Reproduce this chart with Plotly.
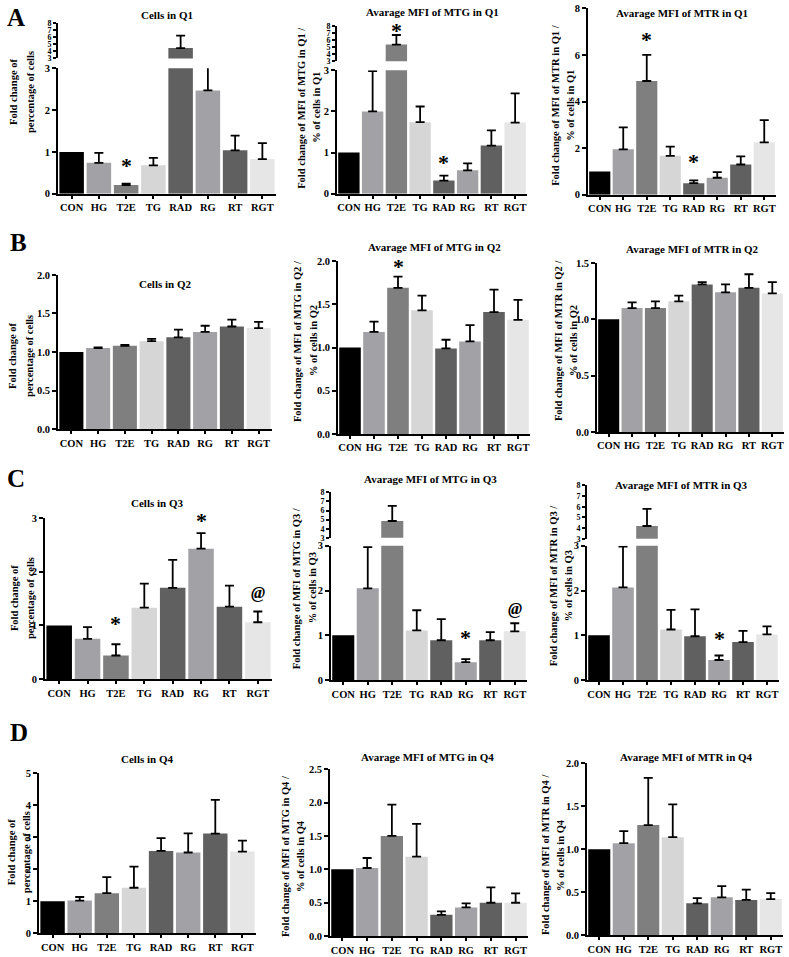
import plotly.graph_objects as go

W, H = 789, 957

categories = ["CON", "HG", "T2E", "TG", "RAD", "RG", "RT", "RGT"]
bar_colors = ["#000000", "#a2a2a6", "#7f7f7f", "#d6d6d6", "#606060", "#a2a2a6", "#606060", "#e6e6e6"]

# ---- data (mean fold change and upper SEM) ----
q1_cells_mean = [1.00, 0.74, 0.21, 0.68, 4.45, 2.47, 1.04, 0.83]
q1_cells_sem = [0, 0.24, 0.03, 0.18, 1.75, 0.89, 0.35, 0.38]
q1_mtg_mean = [1.00, 2.00, 5.36, 1.74, 0.32, 0.57, 1.17, 1.73]
q1_mtg_sem = [0, 0.98, 1.34, 0.38, 0.12, 0.17, 0.37, 0.71]
q1_mtr_mean = [1.00, 1.95, 4.88, 1.67, 0.50, 0.73, 1.30, 2.25]
q1_mtr_sem = [0, 0.94, 1.12, 0.40, 0.12, 0.24, 0.35, 0.95]

q2_cells_mean = [1.00, 1.05, 1.08, 1.14, 1.19, 1.26, 1.33, 1.31]
q2_cells_sem = [0, 0.01, 0.01, 0.03, 0.10, 0.08, 0.09, 0.08]
q2_mtg_mean = [1.00, 1.18, 1.69, 1.43, 0.99, 1.07, 1.41, 1.32]
q2_mtg_sem = [0, 0.12, 0.13, 0.17, 0.10, 0.19, 0.26, 0.23]
q2_mtr_mean = [1.00, 1.10, 1.10, 1.16, 1.31, 1.24, 1.28, 1.23]
q2_mtr_sem = [0, 0.05, 0.06, 0.05, 0.02, 0.07, 0.12, 0.10]

q3_cells_mean = [1.00, 0.75, 0.44, 1.33, 1.70, 2.43, 1.35, 1.06]
q3_cells_sem = [0, 0.22, 0.21, 0.45, 0.52, 0.29, 0.39, 0.20]
q3_mtg_mean = [1.00, 2.05, 4.85, 1.11, 0.89, 0.40, 0.89, 1.09]
q3_mtg_sem = [0, 0.92, 1.65, 0.45, 0.47, 0.07, 0.18, 0.18]
q3_mtr_mean = [1.00, 2.07, 4.20, 1.13, 0.98, 0.45, 0.85, 1.02]
q3_mtr_sem = [0, 0.91, 1.60, 0.44, 0.60, 0.10, 0.25, 0.18]

q4_cells_mean = [1.00, 1.02, 1.25, 1.42, 2.57, 2.52, 3.11, 2.55]
q4_cells_sem = [0, 0.11, 0.50, 0.66, 0.40, 0.60, 1.05, 0.34]
q4_mtg_mean = [1.00, 1.02, 1.50, 1.19, 0.32, 0.43, 0.50, 0.50]
q4_mtg_sem = [0, 0.15, 0.47, 0.49, 0.05, 0.06, 0.23, 0.14]
q4_mtr_mean = [1.00, 1.07, 1.28, 1.14, 0.37, 0.44, 0.41, 0.42]
q4_mtr_sem = [0, 0.14, 0.55, 0.38, 0.06, 0.13, 0.12, 0.07]

FONT = "Liberation Serif"


def px(x):
    return x / W


def py(y):
    return min(1.0, max(0.0, 1 - y / H))


def cells_title():
    return ["Fold change of", "percentage of cells"]


def mfi_title(probe, q):
    return [f"Fold change of MFI of {probe} in {q} /", f"% of cells in {q}"]


# marks: (category, symbol, pixel offset of the symbol above the error-bar top)
panels = [
    # row A
    dict(mean=q1_cells_mean, sem=q1_cells_sem, x0=58, x1=276, yz=191, yt=64, ymax=3, dt=1, fmt="d",
         upper=(54, 18), title="Cells in Q1", tpos=(167, 10), ytitle=cells_title(), ytx=(14, 31), yty=88,
         marks=[("T2E", "*", 21)]),
    dict(mean=q1_mtg_mean, sem=q1_mtg_sem, x0=337, x1=527, yz=191, yt=66, ymax=3, dt=1, fmt="d",
         upper=(57, 21), title="Avarage MFI of MTG in Q1", tpos=(433, 7), ytitle=mfi_title("MTG", "Q1"),
         ytx=(302, 317), yty=104, marks=[("T2E", "*", 7), ("RAD", "*", 16)]),
    dict(mean=q1_mtr_mean, sem=q1_mtr_sem, x0=588, x1=776, yz=192, yt=3.3, ymax=8, dt=2, fmt="d",
         upper=None, title="Avarage MFI of MTR in Q1", tpos=(682, 8), ytitle=mfi_title("MTR", "Q1"),
         ytx=(556, 571), yty=102, marks=[("T2E", "*", 18), ("RAD", "*", 21)]),
    # row B
    dict(mean=q2_cells_mean, sem=q2_cells_sem, x0=58, x1=272, yz=429, yt=273, ymax=2.0, dt=0.5, fmt=".1f",
         upper=None, title="Cells in Q2", tpos=(165, 282), ytitle=cells_title(), ytx=(13, 30), yty=355,
         marks=[]),
    dict(mean=q2_mtg_mean, sem=q2_mtg_sem, x0=338, x1=530, yz=434, yt=259, ymax=2.0, dt=0.5, fmt=".1f",
         upper=None, title="Avarage MFI of MTG in Q2", tpos=(434, 245), ytitle=mfi_title("MTG", "Q2"),
         ytx=(297, 313), yty=340, marks=[("T2E", "*", 13)]),
    dict(mean=q2_mtr_mean, sem=q2_mtr_sem, x0=597, x1=784, yz=432, yt=261, ymax=1.5, dt=0.5, fmt=".1f",
         upper=None, title="Avarage MFI of MTR in Q2", tpos=(692, 247), ytitle=mfi_title("MTR", "Q2"),
         ytx=(558, 573), yty=340, marks=[]),
    # row C
    dict(mean=q3_cells_mean, sem=q3_cells_sem, x0=45, x1=272, yz=682, yt=519, ymax=3, dt=1, fmt="d",
         upper=None, title="Cells in Q3", tpos=(157, 504), ytitle=cells_title(), ytx=(14, 30), yty=600,
         marks=[("T2E", "*", 23), ("RG", "*", 15), ("RGT", "@", 20)]),
    dict(mean=q3_mtg_mean, sem=q3_mtg_sem, x0=331, x1=527, yz=683, yt=547, ymax=3, dt=1, fmt="d",
         upper=(539, 493), title="Avarage MFI of MTG in Q3", tpos=(430, 480), ytitle=mfi_title("MTG", "Q3"),
         ytx=(296, 312), yty=590, marks=[("RG", "*", 24), ("RGT", "@", 16)]),
    dict(mean=q3_mtr_mean, sem=q3_mtr_sem, x0=587, x1=779, yz=683, yt=547, ymax=3, dt=1, fmt="d",
         upper=(540, 486), title="Avarage MFI of MTR in Q3", tpos=(681, 486), ytitle=mfi_title("MTR", "Q3"),
         ytx=(553, 568), yty=588, marks=[("RG", "*", 20)]),
    # row D
    dict(mean=q4_cells_mean, sem=q4_cells_sem, x0=39, x1=256, yz=939, yt=777, ymax=5, dt=1, fmt="d",
         upper=None, title="Cells in Q4", tpos=(147, 763), ytitle=cells_title(), ytx=(11, 26), yty=857,
         marks=[]),
    dict(mean=q4_mtg_mean, sem=q4_mtg_sem, x0=330, x1=528, yz=942, yt=773, ymax=2.5, dt=0.5, fmt=".1f",
         upper=None, title="Avarage MFI of MTG in Q4", tpos=(427, 761), ytitle=mfi_title("MTG", "Q4"),
         ytx=(285, 300), yty=861, marks=[]),
    dict(mean=q4_mtr_mean, sem=q4_mtr_sem, x0=587, x1=783, yz=941, yt=767, ymax=2.0, dt=0.5, fmt=".1f",
         upper=None, title="Avarage MFI of MTR in Q4", tpos=(686, 761), ytitle=mfi_title("MTR", "Q4"),
         ytx=(545, 560), yty=860, marks=[]),
]

panel_letters = [("A", 16, 13), ("B", 18, 240), ("C", 16, 479), ("D", 19, 736)]

fig = go.Figure()
layout = dict(
    width=W, height=H, autosize=False,
    margin=dict(l=0, r=0, t=0, b=0),
    paper_bgcolor="white", plot_bgcolor="white",
    showlegend=False, bargap=0.1, barmode="overlay",
    font=dict(family=FONT, color="black", size=10),
)
annotations = []

axis_common = dict(showline=True, linecolor="black", linewidth=1.7, ticks="outside",
                   tickcolor="black", tickwidth=1.5, showgrid=False, zeroline=False)
tickfont = dict(family=FONT, size=10.5, color="black", weight="bold")

yi = 0
for i, p in enumerate(panels):
    xn = i + 1
    xname = "x" if xn == 1 else f"x{xn}"
    xkey = "xaxis" if xn == 1 else f"xaxis{xn}"
    yi += 1
    ylow = "y" if yi == 1 else f"y{yi}"
    ylowkey = "yaxis" if yi == 1 else f"yaxis{yi}"

    layout[xkey] = dict(axis_common, domain=[px(p["x0"]), px(p["x1"])], anchor=ylow,
                        type="category", categoryorder="array", categoryarray=categories,
                        range=[-0.5, 7.5], ticklen=3, tickfont=tickfont)
    nt = int(round(p["ymax"] / p["dt"]))
    tv = [k * p["dt"] for k in range(nt + 1)]
    tt = [(f"{v:.1f}" if p["fmt"] == ".1f" else f"{int(round(v))}") for v in tv]
    layout[ylowkey] = dict(axis_common, domain=[py(p["yz"]), py(p["yt"])], anchor=xname,
                           range=[0, p["ymax"]], tickvals=tv, ticktext=tt, ticklen=4, tickfont=tickfont)

    yaxes = [ylow]
    yup = None
    if p["upper"]:
        yi += 1
        yup = f"y{yi}"
        yupkey = f"yaxis{yi}"
        ub, ut = p["upper"]
        layout[yupkey] = dict(axis_common, domain=[py(ub), py(ut)], anchor=xname,
                              range=[3, 8], tickvals=[3, 4, 5, 6, 7, 8], ticklen=3,
                              tickfont=dict(tickfont, size=8))
        yaxes.append(yup)

    # bars (clipped to each axis segment)
    for ya in yaxes:
        fig.add_trace(go.Bar(
            x=categories, y=p["mean"], xaxis=xname, yaxis=ya,
            marker=dict(color=bar_colors, line=dict(width=0)),
            hoverinfo="skip",
        ))

    # one-sided error bars, drawn on the segment that holds the bar top
    for ya in yaxes:
        sel = []
        for k, c in enumerate(categories):
            if p["sem"][k] <= 0:
                continue
            on_upper = yup is not None and p["mean"][k] >= 3
            if (ya == yup) == on_upper:
                sel.append(k)
        if not sel:
            continue
        fig.add_trace(go.Scatter(
            x=[categories[k] for k in sel], y=[p["mean"][k] for k in sel],
            xaxis=xname, yaxis=ya, mode="markers", cliponaxis=False,
            marker=dict(size=1, opacity=0),
            error_y=dict(type="data", symmetric=False, array=[p["sem"][k] for k in sel],
                         arrayminus=[0] * len(sel), color="black", thickness=1.8, width=4.5),
            hoverinfo="skip",
        ))

    # title
    annotations.append(dict(text=p["title"], x=px(p["tpos"][0]), y=py(p["tpos"][1]),
                            xref="paper", yref="paper", showarrow=False,
                            xanchor="center", yanchor="middle",
                            font=dict(family=FONT, size=11, color="black", weight="bold")))
    # y title lines
    for line, lx in zip(p["ytitle"], p["ytx"]):
        annotations.append(dict(text=line, x=px(lx), y=py(p["yty"]), xref="paper", yref="paper",
                                showarrow=False, textangle=-90, xanchor="center", yanchor="middle",
                                font=dict(family=FONT, size=10.5, color="black", weight="bold")))
    # significance marks
    for cat, sym, gap in p["marks"]:
        k = categories.index(cat)
        top = p["mean"][k] + p["sem"][k]
        ya = yup if (yup is not None and p["mean"][k] >= 3) else ylow
        if sym == "*":
            annotations.append(dict(text="*", x=cat, y=top, xref=xname, yref=ya, showarrow=False,
                                    xanchor="center", yanchor="bottom", yshift=gap - 17,
                                    font=dict(family=FONT, size=22, color="black", weight="bold")))
        else:
            annotations.append(dict(text="@", x=cat, y=top, xref=xname, yref=ya, showarrow=False,
                                    xanchor="center", yanchor="bottom", yshift=gap - 13,
                                    font=dict(family=FONT, size=17, color="black", weight="bold",
                                              style="italic")))

for letter, lx, ly in panel_letters:
    annotations.append(dict(text=letter, x=px(lx), y=py(ly), xref="paper", yref="paper",
                            showarrow=False, xanchor="center", yanchor="middle",
                            font=dict(family=FONT, size=25, color="black", weight="bold")))

layout["annotations"] = annotations
fig.update_layout(**layout)
# remove the default 8px page margin so the figure fills the window exactly
fig.write_html("out.html", config={"displayModeBar": False},
               post_script="document.body.style.margin='0px';")
